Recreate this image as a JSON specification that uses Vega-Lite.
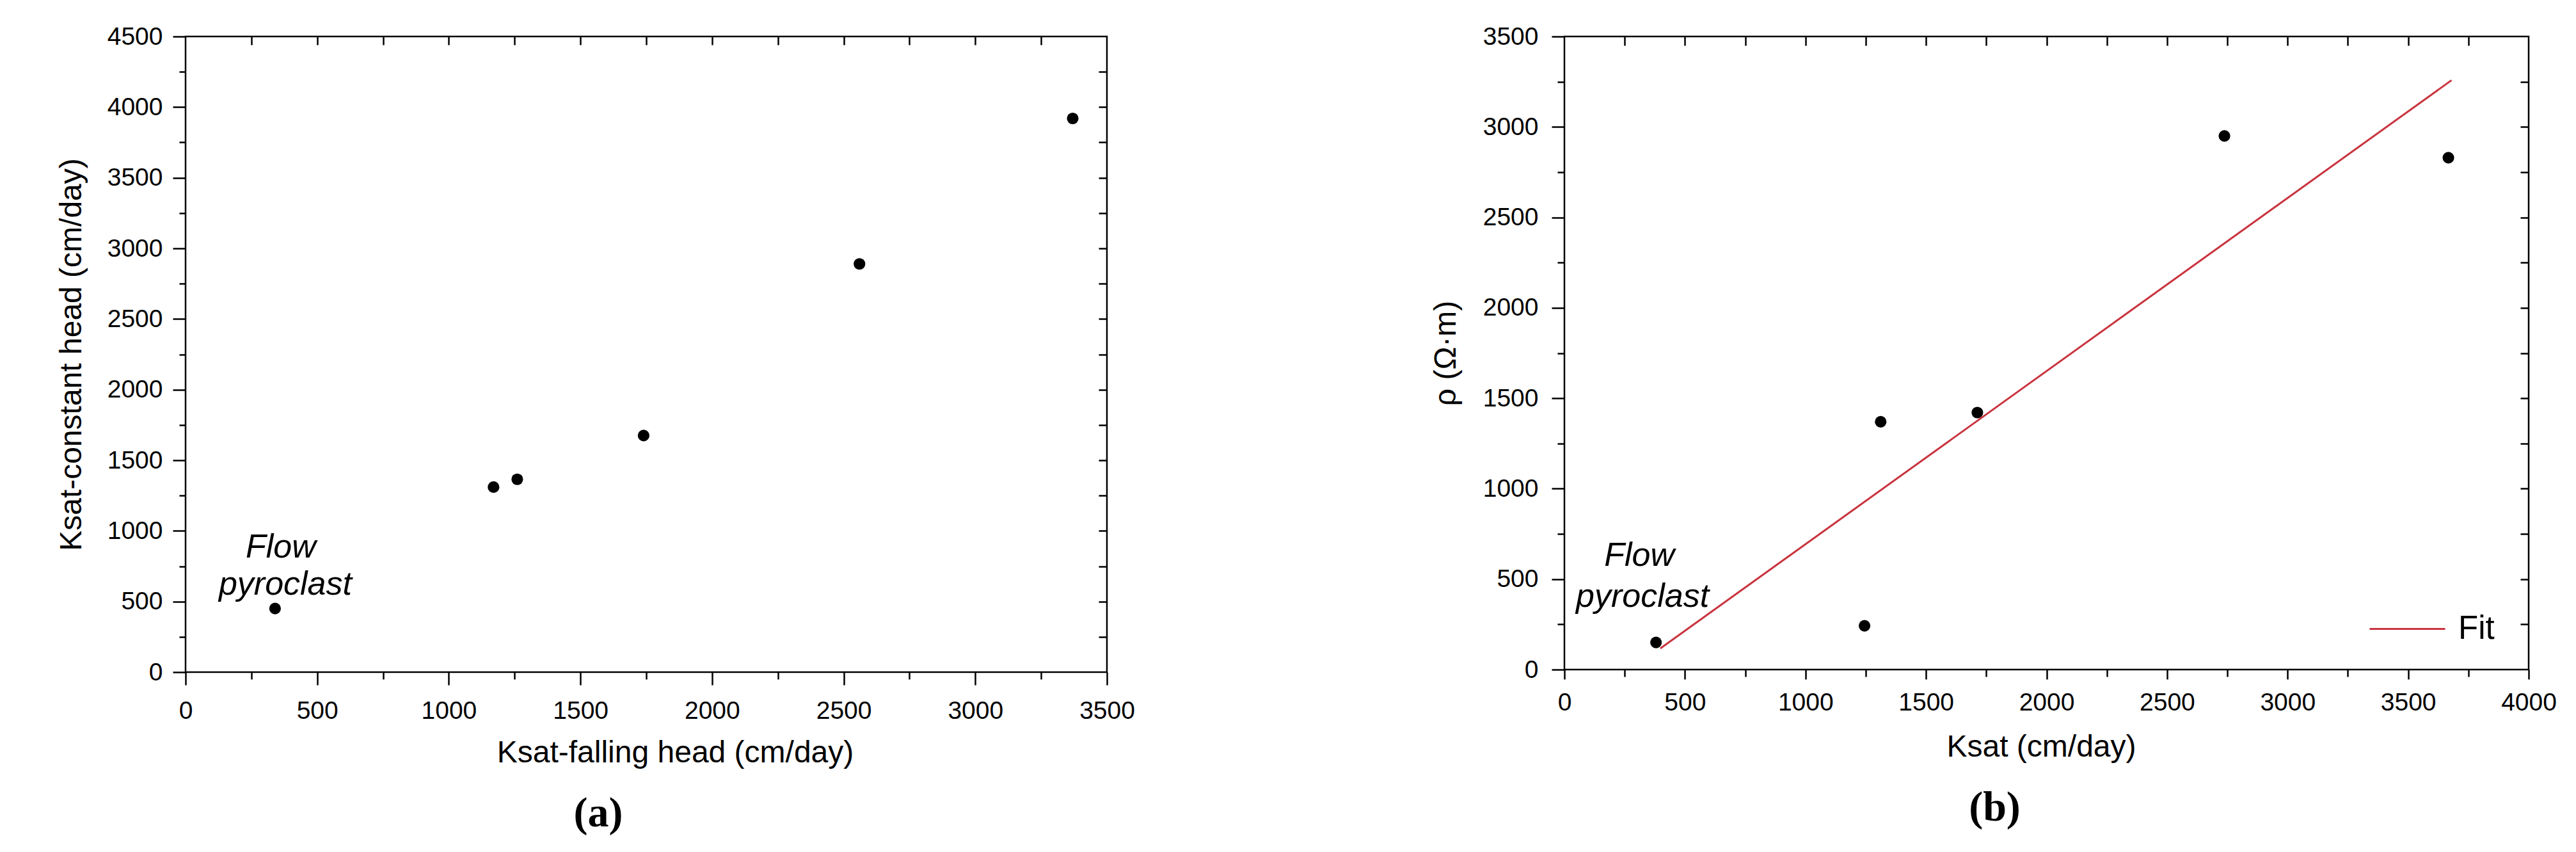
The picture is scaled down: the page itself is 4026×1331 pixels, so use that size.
{
  "$schema": "https://vega.github.io/schema/vega-lite/v6.json",
  "background": "white",
  "padding": {"left": 86, "top": 36, "right": 0, "bottom": 0},
  "bounds": "flush",
  "spacing": 715,
  "datasets": {
    "a": [
      {"fh": 340, "ch": 450},
      {"fh": 1170, "ch": 1310},
      {"fh": 1260, "ch": 1365},
      {"fh": 1740, "ch": 1675},
      {"fh": 2560, "ch": 2890},
      {"fh": 3370, "ch": 3920}
    ],
    "aNote": [
      {"fh": 362, "ch": 811, "t": "Flow"},
      {"fh": 379, "ch": 548, "t": "pyroclast"}
    ],
    "b": [
      {"k": 380, "rho": 150},
      {"k": 1245, "rho": 242},
      {"k": 1312, "rho": 1370},
      {"k": 1713, "rho": 1421},
      {"k": 2738, "rho": 2950},
      {"k": 3667, "rho": 2830}
    ],
    "bFit": [
      {"k": 398, "rho": 117, "s": "Fit"},
      {"k": 3680, "rho": 3258, "s": "Fit"}
    ],
    "bNote": [
      {"k": 311, "rho": 573, "t": "Flow"},
      {"k": 324, "rho": 347, "t": "pyroclast"}
    ]
  },
  "hconcat": [
    {
      "width": 1440,
      "height": 993,
      "title": {"text": "(a)", "orient": "bottom", "anchor": "middle", "font": "Liberation Serif", "fontWeight": "bold", "fontSize": 66, "color": "black", "offset": 39, "dx": -75},
      "resolve": {"axis": {"x": "independent", "y": "independent"}},
      "layer": [
        {
          "data": {"name": "a"},
          "mark": {"type": "circle", "size": 330, "color": "black", "opacity": 1},
          "encoding": {
            "x": {"field": "fh", "type": "quantitative", "scale": {"domain": [0, 3500], "nice": false},
                  "axis": {"orient": "bottom", "values": [0, 500, 1000, 1500, 2000, 2500, 3000, 3500], "tickSize": 20, "labelPadding": 21, "title": "Ksat-falling head (cm/day)", "titlePadding": 22, "titleX": 765}},
            "y": {"field": "ch", "type": "quantitative", "scale": {"domain": [0, 4500], "nice": false},
                  "axis": {"orient": "left", "values": [0, 500, 1000, 1500, 2000, 2500, 3000, 3500, 4000, 4500], "tickSize": 20, "labelPadding": 16, "title": "Ksat-constant head (cm/day)", "titlePadding": 31}}
          }
        },
        {
          "data": {"name": "a"},
          "mark": {"type": "point", "opacity": 0},
          "encoding": {
            "x": {"field": "fh", "type": "quantitative", "scale": {"domain": [0, 3500], "nice": false},
                  "axis": {"orient": "bottom", "values": [250, 750, 1250, 1750, 2250, 2750, 3250], "tickSize": 11, "labels": false, "title": null}},
            "y": {"field": "ch", "type": "quantitative", "scale": {"domain": [0, 4500], "nice": false},
                  "axis": {"orient": "left", "values": [250, 750, 1250, 1750, 2250, 2750, 3250, 3750, 4250], "tickSize": 10, "labels": false, "title": null}}
          }
        },
        {
          "data": {"name": "a"},
          "mark": {"type": "point", "opacity": 0},
          "encoding": {
            "x": {"field": "fh", "type": "quantitative", "scale": {"domain": [0, 3500], "nice": false},
                  "axis": {"orient": "top", "offset": -13, "values": [250, 500, 750, 1000, 1250, 1500, 1750, 2000, 2250, 2500, 2750, 3000, 3250], "tickSize": 13, "labels": false, "title": null}},
            "y": {"field": "ch", "type": "quantitative", "scale": {"domain": [0, 4500], "nice": false},
                  "axis": {"orient": "right", "offset": -13, "values": [250, 500, 750, 1000, 1250, 1500, 1750, 2000, 2250, 2500, 2750, 3000, 3250, 3500, 3750, 4000, 4250], "tickSize": 13, "labels": false, "title": null}}
          }
        },
        {
          "data": {"name": "aNote"},
          "mark": {"type": "text", "font": "Liberation Sans", "fontStyle": "italic", "fontSize": 52, "baseline": "alphabetic", "align": "center", "color": "black"},
          "encoding": {
            "x": {"field": "fh", "type": "quantitative", "scale": {"domain": [0, 3500], "nice": false}, "axis": null},
            "y": {"field": "ch", "type": "quantitative", "scale": {"domain": [0, 4500], "nice": false}, "axis": null},
            "text": {"field": "t"}
          }
        }
      ]
    },
    {
      "width": 1507,
      "height": 989,
      "title": {"text": "(b)", "orient": "bottom", "anchor": "middle", "font": "Liberation Serif", "fontWeight": "bold", "fontSize": 66, "color": "black", "offset": 39, "dx": -81},
      "resolve": {"axis": {"x": "independent", "y": "independent"}},
      "layer": [
        {
          "data": {"name": "b"},
          "mark": {"type": "circle", "size": 330, "color": "black", "opacity": 1},
          "encoding": {
            "x": {"field": "k", "type": "quantitative", "scale": {"domain": [0, 4000], "nice": false},
                  "axis": {"orient": "bottom", "values": [0, 500, 1000, 1500, 2000, 2500, 3000, 3500, 4000], "tickSize": 15, "labelPadding": 17, "title": "Ksat (cm/day)", "titlePadding": 26, "titleX": 745}},
            "y": {"field": "rho", "type": "quantitative", "scale": {"domain": [0, 3500], "nice": false},
                  "axis": {"orient": "left", "values": [0, 500, 1000, 1500, 2000, 2500, 3000, 3500], "tickSize": 20, "labelPadding": 21, "title": "ρ (Ω·m)", "titlePadding": 33}}
          }
        },
        {
          "data": {"name": "b"},
          "mark": {"type": "point", "opacity": 0},
          "encoding": {
            "x": {"field": "k", "type": "quantitative", "scale": {"domain": [0, 4000], "nice": false},
                  "axis": {"orient": "bottom", "values": [250, 750, 1250, 1750, 2250, 2750, 3250, 3750], "tickSize": 11, "labels": false, "title": null}},
            "y": {"field": "rho", "type": "quantitative", "scale": {"domain": [0, 3500], "nice": false},
                  "axis": {"orient": "left", "values": [250, 750, 1250, 1750, 2250, 2750, 3250], "tickSize": 11, "labels": false, "title": null}}
          }
        },
        {
          "data": {"name": "b"},
          "mark": {"type": "point", "opacity": 0},
          "encoding": {
            "x": {"field": "k", "type": "quantitative", "scale": {"domain": [0, 4000], "nice": false},
                  "axis": {"orient": "top", "offset": -14, "values": [250, 500, 750, 1000, 1250, 1500, 1750, 2000, 2250, 2500, 2750, 3000, 3250, 3500, 3750], "tickSize": 14, "labels": false, "title": null}},
            "y": {"field": "rho", "type": "quantitative", "scale": {"domain": [0, 3500], "nice": false},
                  "axis": {"orient": "right", "offset": -13, "values": [250, 500, 750, 1000, 1250, 1500, 1750, 2000, 2250, 2500, 2750, 3000, 3250], "tickSize": 13, "labels": false, "title": null}}
          }
        },
        {
          "data": {"name": "bFit"},
          "mark": {"type": "line", "strokeWidth": 3},
          "encoding": {
            "x": {"field": "k", "type": "quantitative", "scale": {"domain": [0, 4000], "nice": false}, "axis": null},
            "y": {"field": "rho", "type": "quantitative", "scale": {"domain": [0, 3500], "nice": false}, "axis": null},
            "color": {"field": "s", "type": "nominal", "scale": {"range": ["#c9343f"]},
                      "legend": {"orient": "none", "legendX": 3412, "legendY": 865, "title": null, "padding": 0, "symbolType": "stroke", "symbolSize": 13924, "symbolStrokeWidth": 3, "labelFont": "Liberation Sans", "labelFontSize": 51, "labelColor": "black", "labelOffset": 19}}
          }
        },
        {
          "data": {"name": "bNote"},
          "mark": {"type": "text", "font": "Liberation Sans", "fontStyle": "italic", "fontSize": 52, "baseline": "alphabetic", "align": "center", "color": "black"},
          "encoding": {
            "x": {"field": "k", "type": "quantitative", "scale": {"domain": [0, 4000], "nice": false}, "axis": null},
            "y": {"field": "rho", "type": "quantitative", "scale": {"domain": [0, 3500], "nice": false}, "axis": null},
            "text": {"field": "t"}
          }
        }
      ]
    }
  ],
  "config": {
    "view": {"stroke": "black", "strokeWidth": 2.5},
    "axis": {"grid": false, "domain": false, "format": "d", "labelFont": "Liberation Sans", "labelFontSize": 39, "labelColor": "black", "labelFlush": false, "labelOverlap": false, "tickColor": "black", "tickWidth": 2.5, "titleFont": "Liberation Sans", "titleFontSize": 48, "titleFontWeight": "normal", "titleColor": "black"}
  }
}
